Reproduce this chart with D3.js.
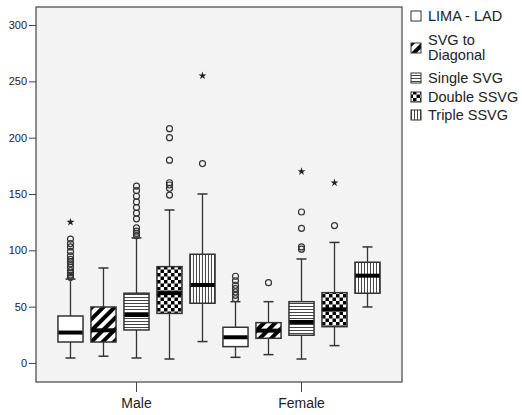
<!DOCTYPE html>
<html><head><meta charset="utf-8">
<script src="https://cdn.jsdelivr.net/npm/d3@7"></script>
<style>body{margin:0;background:#fff;} text{font-family:"Liberation Sans",Arial,sans-serif;}</style>
</head><body>
<svg id="c" width="522" height="415"></svg>
<script>
const groups = ["Male", "Female"];
const series = ["LIMA - LAD", "SVG to Diagonal", "Single SVG", "Double SSVG", "Triple SSVG"];
const patterns = ["pWhite", "pDiag", "pHoriz", "pCheck", "pVert"];
const yTicks = [0, 50, 100, 150, 200, 250, 300];

// per series, index 0..4; Male then Female
const lowMale    = [4.4, 6, 4.4, 3.5, 19];
const q1Male     = [18.6, 18.6, 29.3, 44, 53];
const medMale    = [27, 29, 42.6, 62, 69.2];
const q3Male     = [41.7, 49.7, 61.9, 85.5, 96.5];
const highMale   = [74.5, 84.3, 111, 135.8, 150];
const outMale    = [[76,78,80,82,85,88,90,92,95,99,103,106,110], [], [113,115,117,120,128,133,138,143,148,153,157], [149,155,158,160,180,200,208], [177]];
const extMale    = [[125], [], [], [], [255]];

const lowFemale  = [5, 7.4, 3.5, 15.4, 49.7];
const q1Female   = [14.5, 21.9, 24.6, 32.2, 61.9];
const medFemale  = [22.8, 28.7, 36.4, 47.6, 77.5];
const q3Female   = [31.7, 35.8, 54.4, 62.4, 89.4];
const highFemale = [54.4, 54.4, 92.3, 107, 103];
const outFemale  = [[57,60,63,66,69,73,77], [71.3], [101,103,119.5,134], [122], []];
const extFemale  = [[], [], [170], [160], []];

const rows = [];
groups.forEach(g => series.forEach((s, i) => {
  const m = g === "Male";
  rows.push({g, s, i,
    low: (m ? lowMale : lowFemale)[i], q1: (m ? q1Male : q1Female)[i],
    med: (m ? medMale : medFemale)[i], q3: (m ? q3Male : q3Female)[i],
    high: (m ? highMale : highFemale)[i], out: (m ? outMale : outFemale)[i],
    ext: (m ? extMale : extFemale)[i]});
}));

const svg = d3.select("#c");
const L = 36, R = 402, T = 7, B = 382;
const x0 = d3.scaleBand().domain(groups).range([L, R]).paddingInner(0).paddingOuter(0.109);
const x1 = d3.scaleBand().domain(series).range([0, x0.bandwidth()]).paddingInner(0.24).paddingOuter(0.12);
const y = d3.scaleLinear().domain([-16.9, 316]).range([B, T]);

const defs = svg.append("defs");
let p = defs.append("pattern").attr("id", "pDiag").attr("patternUnits", "userSpaceOnUse")
  .attr("width", 8).attr("height", 8).attr("patternTransform", "rotate(45)");
p.append("rect").attr("width", 8).attr("height", 8).attr("fill", "#fff");
p.append("rect").attr("width", 4).attr("height", 8).attr("fill", "#000");
p = defs.append("pattern").attr("id", "pHoriz").attr("patternUnits", "userSpaceOnUse").attr("width", 4).attr("height", 3);
p.append("rect").attr("width", 4).attr("height", 3).attr("fill", "#fff");
p.append("rect").attr("width", 4).attr("height", 1).attr("fill", "#444");
p = defs.append("pattern").attr("id", "pCheck").attr("patternUnits", "userSpaceOnUse").attr("width", 7).attr("height", 7);
p.append("rect").attr("width", 7).attr("height", 7).attr("fill", "#fff");
p.append("rect").attr("width", 3.5).attr("height", 3.5).attr("fill", "#000");
p.append("rect").attr("x", 3.5).attr("y", 3.5).attr("width", 3.5).attr("height", 3.5).attr("fill", "#000");
p = defs.append("pattern").attr("id", "pVert").attr("patternUnits", "userSpaceOnUse").attr("width", 3).attr("height", 4);
p.append("rect").attr("width", 3).attr("height", 4).attr("fill", "#fff");
p.append("rect").attr("width", 1).attr("height", 4).attr("fill", "#444");
p = defs.append("pattern").attr("id", "pWhite").attr("patternUnits", "userSpaceOnUse").attr("width", 4).attr("height", 4);
p.append("rect").attr("width", 4).attr("height", 4).attr("fill", "#fff");

svg.append("rect").attr("x", L).attr("y", T).attr("width", R - L).attr("height", B - T)
  .attr("fill", "#f3f3f3").attr("stroke", "#444").attr("stroke-width", 1.2);

const ya = svg.append("g").attr("transform", `translate(${L},0)`)
  .call(d3.axisLeft(y).tickValues(yTicks).tickSize(7).tickPadding(2));
ya.select(".domain").remove();
ya.selectAll("line").attr("stroke", "#444");
ya.selectAll("text").attr("font-size", 11).attr("fill", "#222");

const xa = svg.append("g").attr("transform", `translate(0,${B})`)
  .call(d3.axisBottom(x0).tickSize(10).tickPadding(6));
xa.select(".domain").remove();
xa.selectAll("line").attr("stroke", "#444");
xa.selectAll("text").attr("font-size", 14).attr("fill", "#222");

const cap = 10;
const bx = svg.append("g").selectAll("g").data(rows).join("g")
  .attr("transform", d => `translate(${x0(d.g) + x1(d.s)},0)`);
const bw = x1.bandwidth();
bx.append("line").attr("x1", bw / 2).attr("x2", bw / 2).attr("y1", d => y(d.low)).attr("y2", d => y(d.high))
  .attr("stroke", "#333").attr("stroke-width", 1.3);
bx.append("line").attr("x1", bw / 2 - cap / 2).attr("x2", bw / 2 + cap / 2).attr("y1", d => y(d.low)).attr("y2", d => y(d.low))
  .attr("stroke", "#333").attr("stroke-width", 1.5);
bx.append("line").attr("x1", bw / 2 - cap / 2).attr("x2", bw / 2 + cap / 2).attr("y1", d => y(d.high)).attr("y2", d => y(d.high))
  .attr("stroke", "#333").attr("stroke-width", 1.5);
bx.append("rect").attr("x", 0).attr("width", bw).attr("y", d => y(d.q3)).attr("height", d => y(d.q1) - y(d.q3))
  .attr("fill", d => `url(#${patterns[d.i]})`).attr("stroke", "#333").attr("stroke-width", 1.5);
bx.append("line").attr("x1", 0.5).attr("x2", bw - 0.5).attr("y1", d => y(d.med)).attr("y2", d => y(d.med))
  .attr("stroke", "#000").attr("stroke-width", 4);
bx.each(function(d) {
  const g = d3.select(this);
  g.selectAll("circle.o").data(d.out).join("circle").attr("class", "o")
    .attr("cx", bw / 2).attr("cy", v => y(v)).attr("r", 3)
    .attr("fill", "none").attr("stroke", "#333").attr("stroke-width", 1.2);
  g.selectAll("path.e").data(d.ext).join("path").attr("class", "e")
    .attr("transform", v => `translate(${bw / 2},${y(v)})`)
    .attr("d", d3.symbol(d3.symbolStar, 20)).attr("fill", "#222");
});

const legY = [16, 48, 78, 97, 115];
const leg = svg.append("g");
series.forEach((s, i) => {
  leg.append("rect").attr("x", 411).attr("y", legY[i] - 5).attr("width", 10).attr("height", 10)
    .attr("fill", `url(#${patterns[i]})`).attr("stroke", "#333").attr("stroke-width", 1);
  const t = leg.append("text").attr("x", 428).attr("font-size", 14.5).attr("fill", "#222");
  if (s === "SVG to Diagonal") {
    t.append("tspan").attr("x", 428).attr("y", legY[i] - 8 + 5).text("SVG to");
    t.append("tspan").attr("x", 428).attr("y", legY[i] + 7 + 5).text("Diagonal");
  } else {
    t.attr("y", legY[i] + 5).text(s);
  }
});
</script>
</body></html>
